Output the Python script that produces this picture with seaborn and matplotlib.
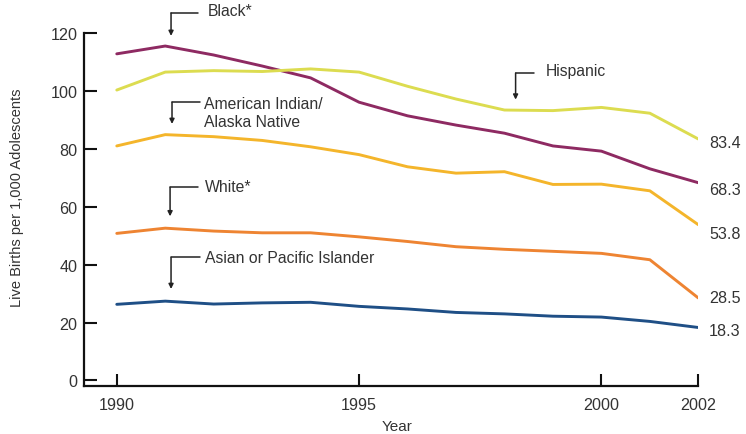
import numpy as np
import pandas as pd
import matplotlib
matplotlib.use('Agg')
import matplotlib.pyplot as plt
import seaborn as sns

# Birth rates for adolescents 15-19, per 1,000, by race/ethnicity
years = list(range(1990, 2003))
black = [112.8, 115.5, 112.4, 108.6, 104.5, 96.1, 91.4, 88.2, 85.4, 81.0, 79.2, 73.1, 68.3]
hispanic = [100.3, 106.5, 107.0, 106.7, 107.6, 106.5, 101.6, 97.2, 93.4, 93.2, 94.3, 92.3, 83.4]
am_indian = [81.0, 84.9, 84.2, 82.9, 80.7, 78.0, 73.8, 71.6, 72.1, 67.7, 67.8, 65.5, 53.8]
white = [50.8, 52.6, 51.6, 51.0, 51.0, 49.6, 48.0, 46.2, 45.3, 44.6, 43.9, 41.7, 28.5]
asian = [26.3, 27.4, 26.4, 26.8, 27.0, 25.6, 24.7, 23.5, 23.0, 22.2, 21.9, 20.4, 18.3]

series = {
    'Black*': black,
    'Hispanic': hispanic,
    'American Indian/\nAlaska Native': am_indian,
    'White*': white,
    'Asian or Pacific Islander': asian,
}
colors = {
    'Black*': '#8E2A62',
    'Hispanic': '#DCDC50',
    'American Indian/\nAlaska Native': '#F4B52B',
    'White*': '#EE8432',
    'Asian or Pacific Islander': '#1F4F86',
}

df = pd.concat(
    [pd.DataFrame({'year': years, 'rate': v, 'group': k}) for k, v in series.items()],
    ignore_index=True,
)

sns.set_style('white')
plt.rcParams['font.family'] = ['Liberation Sans', 'DejaVu Sans']
txt = '#333333'

fig = plt.figure(figsize=(7.46, 4.35), dpi=100)
ax = fig.add_axes([84.3 / 746, 1 - 386.7 / 435, 614 / 746, 352.7 / 435])

sns.lineplot(data=df, x='year', y='rate', hue='group', palette=colors,
             linewidth=2.1, legend=False, ax=ax)

ax.set_xlim(1989.33, 2002)
ax.set_ylim(-1.8, 120)
ax.set_xticks([1990, 1995, 2000, 2002])
ax.set_yticks(range(0, 121, 20))
ax.tick_params(bottom=True, left=True, direction='in', length=9, width=1.5,
               colors='#111111', labelcolor=txt, labelsize=11.6)
ax.tick_params(axis='x', pad=8)
ax.tick_params(axis='y', pad=5)

for s in ['top', 'right']:
    ax.spines[s].set_visible(False)
for s in ['left', 'bottom']:
    ax.spines[s].set_linewidth(1.6)
    ax.spines[s].set_color('#111111')

ax.set_xlabel('Year', fontsize=11, color=txt)
ax.set_ylabel('Live Births per 1,000 Adolescents', fontsize=10.5, color=txt)
ax.xaxis.set_label_coords(0.509, -0.095)
ax.yaxis.set_label_coords(-0.099, 0.535)

# elbow callouts: (name, arrow x, elbow end x, top y, tip y, text x, text y)
callouts = [
    ('Black*', 1991.12, 1991.68, 126.9, 119.0, 1991.87, 127.6),
    ('Hispanic', 1998.23, 1998.60, 106.2, 97.0, 1998.85, 107.0),
    ('American Indian/\nAlaska Native', 1991.14, 1991.72, 96.1, 88.6, 1991.80, 92.4),
    ('White*', 1991.10, 1991.67, 66.7, 56.7, 1991.82, 66.9),
    ('Asian or Pacific Islander', 1991.12, 1991.71, 42.5, 31.6, 1991.82, 42.6),
]
for name, x0, x1, ytop, ytip, tx, ty in callouts:
    ax.plot([x0, x1], [ytop, ytop], color='#222222', lw=1.1, clip_on=False)
    ax.annotate('', xy=(x0, ytip), xytext=(x0, ytop),
                arrowprops=dict(arrowstyle='-|>', color='#222222', lw=1.1,
                                mutation_scale=7, shrinkA=0, shrinkB=0),
                annotation_clip=False)
    ax.text(tx, ty, name, fontsize=11.3, color=txt, va='center', ha='left',
            linespacing=1.25, clip_on=False)

# end values
offsets = {'Black*': -2.2, 'Hispanic': -1.3, 'American Indian/\nAlaska Native': -3.0,
           'White*': 0.0, 'Asian or Pacific Islander': -1.1}
for name, vals in series.items():
    ax.text(2002.22, vals[-1] + offsets[name], f'{vals[-1]:.1f}', fontsize=11.6,
            color=txt, va='center', ha='left', clip_on=False)

fig.savefig('out.png', dpi=100)
